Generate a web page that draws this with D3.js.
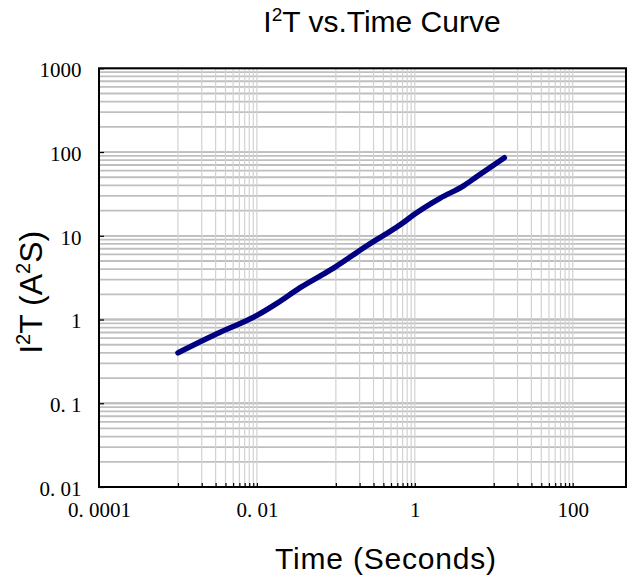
<!DOCTYPE html>
<html>
<head>
<meta charset="utf-8">
<script src="https://cdn.jsdelivr.net/npm/d3@7"></script>
<style>
  body { margin: 0; background: #fff; }
  svg { display: block; }
</style>
</head>
<body>
<div class="container-i2t"></div>
<script>
// curve: time (s) vs I2T (A2S)
const timeValues = [0.001, 0.0031, 0.01, 0.0179, 0.0353, 0.0933, 0.247, 0.653, 1.01, 2.1, 4.14, 6.12, 13.6];
const i2tValues = [0.40, 0.675, 1.12, 1.56, 2.4, 4.11, 7.6, 13.5, 18.3, 28.2, 39.5, 51.1, 85.5];

const xTickValues = [0.0001, 0.01, 1, 100];
const xTickLabels = ['0. 0001', '0. 01', '1', '100'];
const yTickValues = [0.01, 0.1, 1, 10, 100, 1000];
const yTickLabels = ['0. 01', '0. 1', '1', '10', '100', '1000'];

const titleText = 'T vs.Time Curve';
const xTitle = 'Time (Seconds)';

const width = 628;
const height = 580;
const plot = { left: 99, right: 626, top: 68.3, bottom: 487 };

const scaleX = d3.scaleLog()
  .domain([0.0001, Math.pow(10, 2.675)])
  .range([plot.left, plot.right]);

const scaleY = d3.scaleLog()
  .domain([0.01, 1000])
  .range([plot.bottom, plot.top]);

// excel-style log 100 axis: minor lines only inside odd decades
const xMinor = [];
[0.001, 0.1, 10].forEach(base => {
  for (let m = 1; m <= 10; m++) xMinor.push(base * m);
});
const yMinor = [];
[0.01, 0.1, 1, 10, 100].forEach(base => {
  for (let m = 1; m <= 10; m++) yMinor.push(base * m);
});

const svg = d3.select('.container-i2t')
  .append('svg')
  .attr('width', width)
  .attr('height', height);

const groupGrid = svg.append('g').attr('class', 'grid');

groupGrid.selectAll('line.grid-y')
  .data(yMinor)
  .enter()
  .append('line')
  .attr('class', 'grid-y')
  .attr('x1', plot.left)
  .attr('x2', plot.right)
  .attr('y1', d => scaleY(d))
  .attr('y2', d => scaleY(d))
  .attr('stroke', '#bfbfbf')
  .attr('stroke-width', 1.8);

groupGrid.selectAll('line.grid-x')
  .data(xMinor)
  .enter()
  .append('line')
  .attr('class', 'grid-x')
  .attr('x1', d => scaleX(d))
  .attr('x2', d => scaleX(d))
  .attr('y1', plot.top)
  .attr('y2', plot.bottom)
  .attr('stroke', '#d2d2d2')
  .attr('stroke-width', 1.2);

// curve
const generatorLine = d3.line()
  .x((d, i) => scaleX(timeValues[i]))
  .y(d => scaleY(d))
  .curve(d3.curveMonotoneX);

svg.append('path')
  .attr('d', generatorLine(i2tValues))
  .attr('fill', 'none')
  .attr('stroke', '#000080')
  .attr('stroke-width', 5.5)
  .attr('stroke-linecap', 'round')
  .attr('stroke-linejoin', 'round');

// frame
svg.append('rect')
  .attr('x', plot.left)
  .attr('y', plot.top)
  .attr('width', plot.right - plot.left)
  .attr('height', plot.bottom - plot.top)
  .attr('fill', 'none')
  .attr('stroke', '#000')
  .attr('stroke-width', 2);

// inward tick marks
const axisXTicks = d3.axisBottom(scaleX)
  .tickValues(xMinor)
  .tickSize(-4)
  .tickFormat('');

const axisYTicks = d3.axisLeft(scaleY)
  .tickValues(yTickValues)
  .tickSize(-5)
  .tickFormat('');

svg.append('g')
  .attr('transform', `translate(0, ${plot.bottom})`)
  .call(axisXTicks)
  .call(g => g.select('.domain').remove())
  .selectAll('line').attr('stroke', '#000').attr('stroke-width', 1.2);

svg.append('g')
  .attr('transform', `translate(${plot.left}, 0)`)
  .call(axisYTicks)
  .call(g => g.select('.domain').remove())
  .selectAll('line').attr('stroke', '#000').attr('stroke-width', 1.2);

// tick labels
const axisXLabels = d3.axisBottom(scaleX)
  .tickValues(xTickValues)
  .tickSize(0)
  .tickPadding(15.5)
  .tickFormat((d, i) => xTickLabels[i]);

const axisYLabels = d3.axisLeft(scaleY)
  .tickValues(yTickValues)
  .tickSize(0)
  .tickPadding(17.5)
  .tickFormat((d, i) => yTickLabels[i]);

svg.append('g')
  .attr('transform', `translate(0, ${plot.bottom})`)
  .call(axisXLabels)
  .call(g => g.select('.domain').remove())
  .selectAll('text')
  .attr('font-family', '"Liberation Serif", "DejaVu Serif", serif')
  .attr('font-size', 21)
  .attr('fill', '#000');

svg.append('g')
  .attr('transform', `translate(${plot.left}, 1.5)`)
  .call(axisYLabels)
  .call(g => g.select('.domain').remove())
  .selectAll('text')
  .attr('font-family', '"Liberation Serif", "DejaVu Serif", serif')
  .attr('font-size', 21)
  .attr('fill', '#000');

// titles
const title = svg.append('text')
  .attr('x', 382)
  .attr('y', 32)
  .attr('text-anchor', 'middle')
  .attr('font-family', '"Liberation Sans", Arial, sans-serif')
  .attr('font-size', 30)
  .attr('fill', '#000');
title.append('tspan').text('I');
title.append('tspan').attr('dy', -11).attr('font-size', 19).text('2');
title.append('tspan').attr('dy', 11).text(titleText);

svg.append('text')
  .attr('x', 386)
  .attr('y', 569)
  .attr('text-anchor', 'middle')
  .attr('font-family', '"Liberation Sans", Arial, sans-serif')
  .attr('font-size', 30)
  .attr('letter-spacing', 0.8)
  .attr('fill', '#000')
  .text(xTitle);

const yTitle = svg.append('text')
  .attr('transform', 'translate(41.5, 292.3) rotate(-90)')
  .attr('text-anchor', 'middle')
  .attr('font-family', '"Liberation Sans", Arial, sans-serif')
  .attr('font-size', 32)
  .attr('fill', '#000');
yTitle.append('tspan').text('I');
yTitle.append('tspan').attr('dy', -12).attr('font-size', 20).text('2');
yTitle.append('tspan').attr('dy', 12).text('T (A');
yTitle.append('tspan').attr('dy', -12).attr('font-size', 20).text('2');
yTitle.append('tspan').attr('dy', 12).text('S)');
</script>
</body>
</html>
